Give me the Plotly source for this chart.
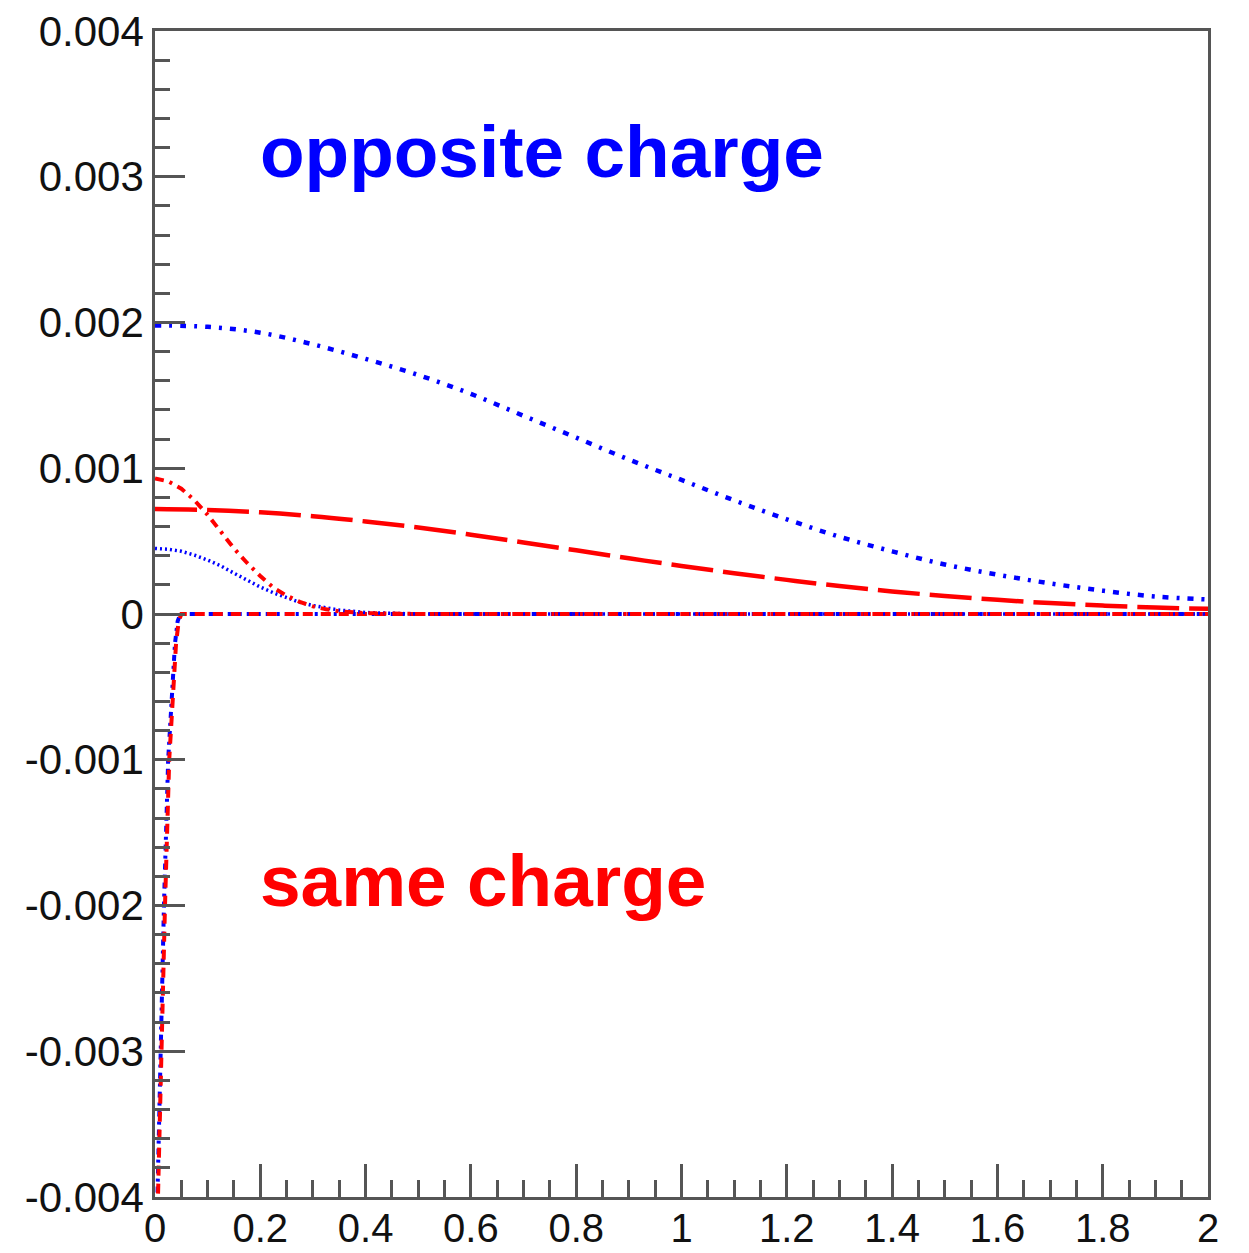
import plotly.graph_objects as go

# Broad components (x in 0.1 steps)
x_wide = [0.0, 0.1, 0.2, 0.3, 0.4, 0.5, 0.6, 0.7, 0.8, 0.9, 1.0,
          1.1, 1.2, 1.3, 1.4, 1.5, 1.6, 1.7, 1.8, 1.9, 2.0]
opp_wide = [0.00198, 0.00197, 0.00193, 0.00185, 0.00175, 0.00164, 0.00151,
            0.00136, 0.00121, 0.00106, 0.00092, 0.00078, 0.00065, 0.00053,
            0.00043, 0.00034, 0.00027, 0.00021, 0.00016, 0.00012, 0.00010]
same_wide = [0.00072, 0.000714, 0.000698, 0.000671, 0.000635, 0.000593,
             0.000544, 0.000491, 0.000437, 0.000382, 0.00033, 0.00028,
             0.000234, 0.000192, 0.000155, 0.000124, 0.000097, 0.000075,
             0.000058, 0.000044, 0.000036]

# Narrow components
x_narrow = [0.0, 0.025, 0.05, 0.075, 0.1, 0.125, 0.15, 0.175, 0.2, 0.225,
            0.25, 0.275, 0.3, 0.325, 0.35, 0.4, 0.45, 0.5, 1.0, 1.5, 2.0]
same_narrow = [0.00093, 0.00091, 0.00086, 0.00078, 0.00068, 0.00056, 0.00045,
               0.00035, 0.00026, 0.00018, 0.000126, 0.000083, 0.000052,
               0.000032, 0.000018, 0.000006, 0.000001, 0.0, 0.0, 0.0, 0.0]
opp_narrow = [0.00045, 0.000444, 0.00043, 0.000404, 0.00037, 0.00033, 0.00028,
              0.00023, 0.000185, 0.000145, 0.00011, 0.00008, 0.000058,
              0.00004, 0.000027, 0.00001, 0.000003, 0.0, 0.0, 0.0, 0.0]

# Short-range negative components
x_neg_same = [0.005, 0.008, 0.013, 0.019, 0.027, 0.034, 0.040, 0.045,
              0.050, 0.1, 0.5, 1.0, 1.5, 2.0]
same_neg = [-0.0041, -0.0036, -0.0030, -0.0020, -0.0010, -0.0005, -0.0002,
            -0.00005, 0.0, 0.0, 0.0, 0.0, 0.0, 0.0]
x_neg_opp = [0.004, 0.007, 0.012, 0.017, 0.025, 0.032, 0.038, 0.043,
             0.048, 0.1, 0.5, 1.0, 1.5, 2.0]
opp_neg = [-0.0041, -0.0036, -0.0030, -0.0020, -0.0010, -0.0005, -0.0002,
           -0.00005, 0.0, 0.0, 0.0, 0.0, 0.0, 0.0]

y_ticks = [0.004, 0.003, 0.002, 0.001, 0.0, -0.001, -0.002, -0.003, -0.004]
y_tick_text = ["0.004", "0.003", "0.002", "0.001", "0",
               "-0.001", "-0.002", "-0.003", "-0.004"]
x_ticks = [0.0, 0.2, 0.4, 0.6, 0.8, 1.0, 1.2, 1.4, 1.6, 1.8, 2.0]
x_tick_text = ["0", "0.2", "0.4", "0.6", "0.8", "1", "1.2", "1.4", "1.6", "1.8", "2"]

BLUE = "#0000ff"
RED = "#ff0000"

fig = go.Figure()

fig.add_trace(go.Scatter(x=x_neg_opp, y=opp_neg, mode="lines",
                         line=dict(color=BLUE, width=4, dash="6px,5px,3px,5px")))
fig.add_trace(go.Scatter(x=x_neg_same, y=same_neg, mode="lines",
                         line=dict(color=RED, width=4, dash="10px,8px")))
fig.add_trace(go.Scatter(x=x_narrow, y=opp_narrow, mode="lines",
                         line=dict(color=BLUE, width=3.5, dash="2px,3px")))
fig.add_trace(go.Scatter(x=x_narrow, y=same_narrow, mode="lines",
                         line=dict(color=RED, width=4, dash="9px,6px,3px,6px")))
fig.add_trace(go.Scatter(x=x_wide, y=same_wide, mode="lines", line_shape="spline",
                         line=dict(color=RED, width=4.5, dash="42px,10px")))
fig.add_trace(go.Scatter(x=x_wide, y=opp_wide, mode="lines", line_shape="spline",
                         line=dict(color=BLUE, width=4.5, dash="6px,8px,3px,8px")))

fig.add_annotation(x=0.195, y=0.00288, xref="x", yref="y", text="<b>opposite charge</b>",
                   showarrow=False, xanchor="left", yanchor="bottom",
                   font=dict(family="Liberation Sans", size=73, color=BLUE))
fig.add_annotation(x=0.195, y=-0.00212, xref="x", yref="y", text="<b>same charge</b>",
                   showarrow=False, xanchor="left", yanchor="bottom",
                   font=dict(family="Liberation Sans", size=73, color=RED))

axis_common = dict(showgrid=False, zeroline=False, showline=True, mirror=True,
                   linecolor="#555555", linewidth=2.5, ticks="inside",
                   tickcolor="#555555", tickwidth=2.5, automargin=False)

fig.update_xaxes(range=[0, 2], tickvals=x_ticks, ticktext=x_tick_text, ticklen=33,
                 tickfont=dict(family="Liberation Sans", size=40, color="#111111"),
                 ticklabelstandoff=-6,
                 minor=dict(ticks="inside", dtick=0.05, ticklen=17,
                            tickcolor="#555555", tickwidth=2.5),
                 **axis_common)
fig.update_yaxes(range=[-0.004, 0.004], tickvals=y_ticks, ticktext=y_tick_text, ticklen=30,
                 tickfont=dict(family="Liberation Sans", size=42, color="#111111"),
                 minor=dict(ticks="inside", dtick=0.0002, ticklen=15,
                            tickcolor="#555555", tickwidth=2.5),
                 **axis_common)

fig.update_layout(width=1249, height=1253, showlegend=False,
                  paper_bgcolor="white", plot_bgcolor="white",
                  margin=dict(l=155, r=41, t=31, b=56))

fig.write_html("out.html")
